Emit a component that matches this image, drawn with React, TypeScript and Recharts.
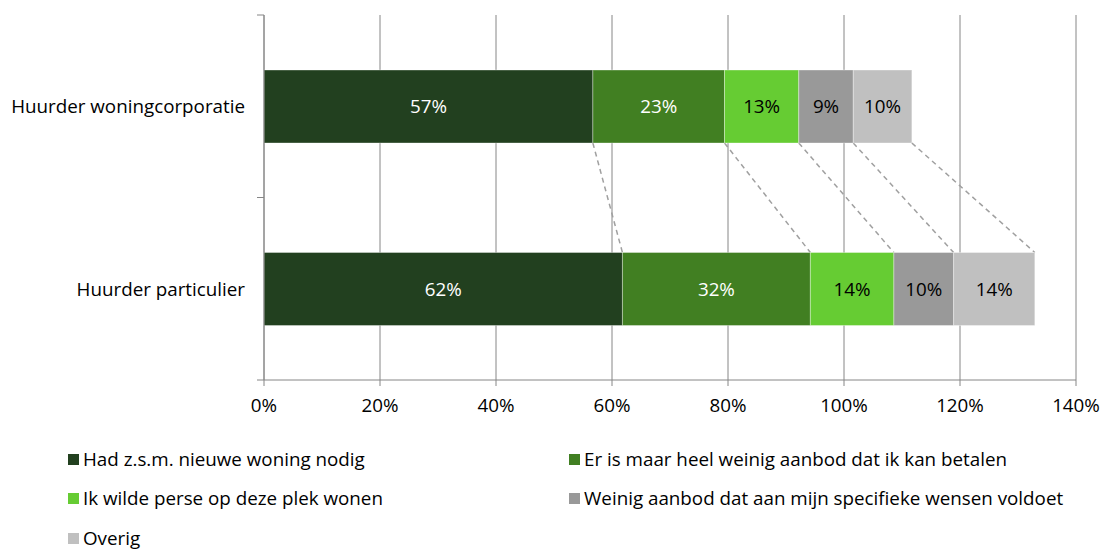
import React from 'react';
import {
  BarChart,
  Bar,
  XAxis,
  YAxis,
  CartesianGrid,
  LabelList,
} from 'recharts';

// categories (y axis)
const categories = ['Huurder woningcorporatie', 'Huurder particulier'];

// series values per category, in %
const zsm = [56.7, 61.8];
const betalen = [22.7, 32.4];
const plek = [12.8, 14.4];
const wensen = [9.4, 10.3];
const overig = [10.1, 14.0];

const xTicks = [0, 20, 40, 60, 80, 100, 120, 140];

const series = [
  { key: 'zsm', name: 'Had z.s.m. nieuwe woning nodig', values: zsm, color: '#22401f', label: '#ffffff' },
  { key: 'betalen', name: 'Er is maar heel weinig aanbod dat ik kan betalen', values: betalen, color: '#417f22', label: '#ffffff' },
  { key: 'plek', name: 'Ik wilde perse op deze plek wonen', values: plek, color: '#66cc33', label: '#000000' },
  { key: 'wensen', name: 'Weinig aanbod dat aan mijn specifieke wensen voldoet', values: wensen, color: '#999999', label: '#000000' },
  { key: 'overig', name: 'Overig', values: overig, color: '#c0c0c0', label: '#000000' },
];

const data = categories.map((cat, i) => {
  const row: Record<string, any> = { cat };
  series.forEach((s) => {
    row[s.key] = s.values[i];
  });
  return row;
});

const W = 1101;
const H = 550;
const margin = { top: 15, right: 25, bottom: 0, left: 0 };
const xAxisHeight = 170;
const band = (H - margin.top - margin.bottom - xAxisHeight) / categories.length;
const font = '"Open Sans", sans-serif';
const fs = 18.8;
const axisColor = '#868686';

const cumTo = (row: Record<string, any>, idx: number) => {
  let sum = 0;
  for (let k = 0; k <= idx; k++) sum += row[series[k].key];
  return sum;
};

// bar segment with Excel-style series line to the next category
const makeShape = (sIdx: number) => (props: any) => {
  const { x, y, width, height, fill, index, payload } = props;
  const key = series[sIdx].key;
  const ppu = width / payload[key];
  const start = cumTo(payload, sIdx) - payload[key];
  const plotLeft = x - start * ppu;
  let line = null;
  if (index === 0 && data[1]) {
    const x2 = plotLeft + cumTo(data[1], sIdx) * ppu;
    line = (
      <line
        x1={x + width}
        y1={y + height}
        x2={x2}
        y2={y + band}
        stroke="#a0a0a0"
        strokeWidth={1.5}
        strokeDasharray="5 4"
      />
    );
  }
  return (
    <g>
      <rect x={x} y={y} width={width} height={height} fill={fill} stroke="#ffffff" strokeOpacity={0.35} strokeWidth={1} />
      {line}
    </g>
  );
};

const YTick = (props: any) => {
  const { x, y, payload } = props;
  const ax = x + 8;
  return (
    <g>
      <text x={ax - 19} y={y} textAnchor="end" dominantBaseline="central" fontFamily={font} fontSize={fs} fill="#000">
        {payload.value}
      </text>
      <line x1={ax - 7} x2={ax} y1={y - band / 2} y2={y - band / 2} stroke={axisColor} />
      <line x1={ax - 7} x2={ax} y1={y + band / 2} y2={y + band / 2} stroke={axisColor} />
    </g>
  );
};

const legendPos = [
  { left: 68, top: 453 },
  { left: 569, top: 453 },
  { left: 68, top: 492 },
  { left: 569, top: 492 },
  { left: 68, top: 532 },
];

export default function App() {
  return (
    <div style={{ position: 'absolute', left: 0, top: 0, width: W, height: H, background: '#fff' }}>
      <BarChart
        width={W}
        height={H}
        data={data}
        layout="vertical"
        margin={margin}
        barSize={73}
      >
        <CartesianGrid horizontal={false} stroke={axisColor} strokeDasharray="" />
        <XAxis
          type="number"
          domain={[0, 140]}
          ticks={xTicks}
          height={xAxisHeight}
          tickFormatter={(v) => `${v}%`}
          stroke={axisColor}
          tickSize={6}
          tickMargin={13}
          tick={{ fontFamily: font, fontSize: fs, fill: '#000' }}
          interval={0}
        />
        <YAxis
          type="category"
          dataKey="cat"
          width={264}
          stroke={axisColor}
          tickLine={false}
          tick={<YTick />}
        />
        {series.map((s, i) => (
          <Bar
            key={s.key}
            dataKey={s.key}
            name={s.name}
            stackId="a"
            fill={s.color}
            isAnimationActive={false}
            shape={makeShape(i)}
          >
            <LabelList
              dataKey={s.key}
              position="center"
              formatter={(v: any) => `${Math.round(v)}%`}
              fill={s.label}
              style={{ fontFamily: font, fontSize: fs }}
            />
          </Bar>
        ))}
      </BarChart>
      {series.map((s, i) => (
        <div
          key={s.key}
          style={{
            position: 'absolute',
            left: legendPos[i].left,
            top: legendPos[i].top,
            display: 'flex',
            alignItems: 'center',
            fontFamily: font,
            fontSize: fs,
            color: '#000',
            whiteSpace: 'nowrap',
            lineHeight: '12px',
          }}
        >
          <span style={{ display: 'inline-block', width: 11, height: 11, background: s.color, marginRight: 4 }} />
          {s.name}
        </div>
      ))}
    </div>
  );
}
